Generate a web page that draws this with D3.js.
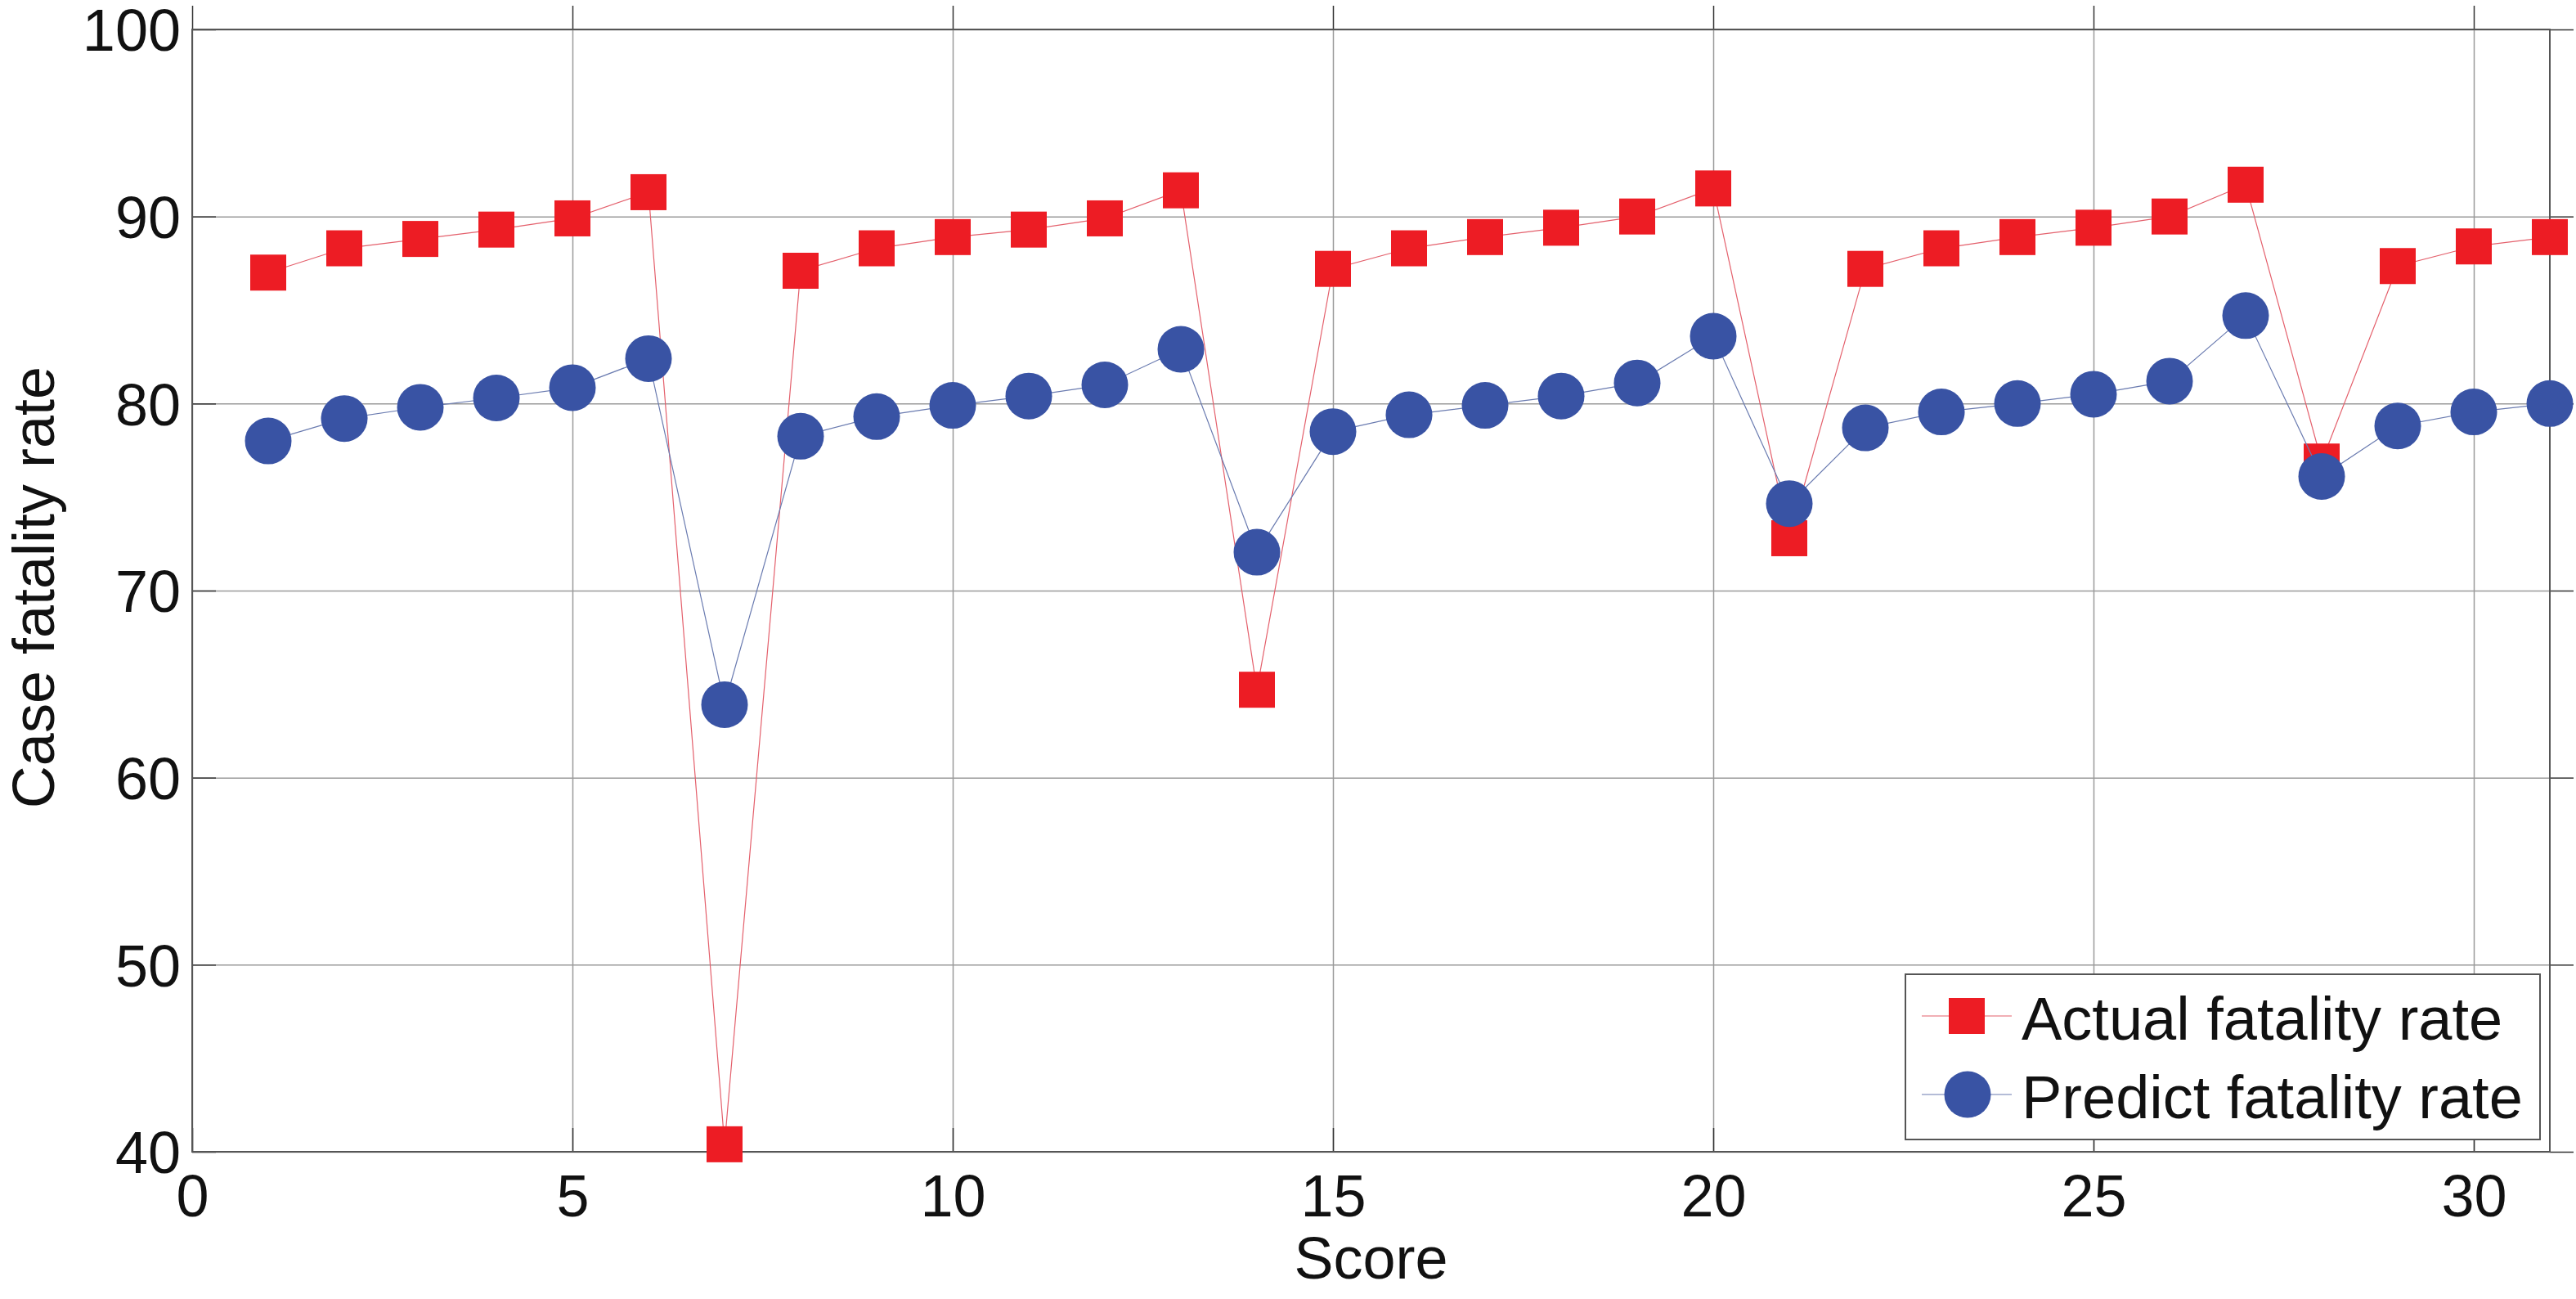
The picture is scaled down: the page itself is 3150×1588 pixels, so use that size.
<!DOCTYPE html>
<html>
<head>
<meta charset="utf-8">
<script src="https://cdn.jsdelivr.net/npm/d3@7"></script>
<style>
body { margin: 0; background: #fff; }
text { font-family: "Liberation Sans", Arial, sans-serif; fill: #111; }
</style>
</head>
<body>
<div id="chart"></div>
<script>
// data
var scores = d3.range(1, 32);
var actualRate = [87.0, 88.3, 88.8, 89.3, 89.9, 91.3, 40.4, 87.1, 88.3, 88.9, 89.3, 89.9, 91.4, 64.7, 87.2,
  88.3, 88.9, 89.4, 90.0, 91.5, 72.8, 87.2, 88.3, 88.9, 89.4, 90.0, 91.7, 76.9, 87.35, 88.4, 88.9];
var predictRate = [78.0, 79.2, 79.8, 80.3, 80.85, 82.4, 63.9, 78.25, 79.3, 79.9, 80.4, 81.0, 82.9, 72.05, 78.5,
  79.4, 79.9, 80.4, 81.1, 83.6, 74.65, 78.7, 79.55, 80.0, 80.5, 81.2, 84.7, 76.1, 78.8, 79.55, 80.0];
var xTicks = [0, 5, 10, 15, 20, 25, 30];
var yTicks = [40, 50, 60, 70, 80, 90, 100];
var seriesNames = ['Actual fatality rate', 'Predict fatality rate'];

var svgWidth = 3150,
  svgHeight = 1588;

var margin = { t: 36, r: 32, b: 180, l: 235 };
var width = svgWidth - margin.l - margin.r,
  height = svgHeight - margin.t - margin.b;

var svg = d3.select('#chart')
  .append('svg')
  .attr('width', svgWidth)
  .attr('height', svgHeight);

var chart = svg.append('g')
  .attr('transform', `translate(${margin.l},${margin.t})`);

var xScale = d3.scaleLinear().domain([0, 31]).range([0, width]);
var yScale = d3.scaleLinear().domain([40, 100]).range([height, 0]);

// grid
chart.append('g')
  .call(d3.axisBottom(xScale).tickValues(xTicks).tickSize(height).tickFormat(''))
  .call(g => g.select('.domain').remove())
  .selectAll('line').attr('stroke', '#9a9a9a').attr('stroke-width', 1.5);

chart.append('g')
  .call(d3.axisLeft(yScale).tickValues(yTicks).tickSize(-width).tickFormat(''))
  .call(g => g.select('.domain').remove())
  .selectAll('line').attr('stroke', '#9a9a9a').attr('stroke-width', 1.5);

// inward ticks on all four sides
var tl = 29;
[[d3.axisBottom, height, -tl], [d3.axisTop, 0, tl]].forEach(a => {
  chart.append('g').attr('transform', `translate(0,${a[1]})`)
    .call(a[0](xScale).tickValues(xTicks).tickSize(a[2]).tickFormat(''))
    .call(g => g.select('.domain').remove())
    .selectAll('line').attr('stroke', '#333').attr('stroke-width', 1.5);
});
[[d3.axisLeft, 0, -tl], [d3.axisRight, width, tl]].forEach(a => {
  chart.append('g').attr('transform', `translate(${a[1]},0)`)
    .call(a[0](yScale).tickValues(yTicks).tickSize(a[2]).tickFormat(''))
    .call(g => g.select('.domain').remove())
    .selectAll('line').attr('stroke', '#333').attr('stroke-width', 1.5);
});

// tick labels
var xAxis = chart.append('g')
  .attr('transform', `translate(0,${height})`)
  .call(d3.axisBottom(xScale).tickValues(xTicks).tickSize(0).tickPadding(0));
xAxis.select('.domain').remove();
xAxis.selectAll('text')
  .attr('y', 79).attr('dy', null)
  .style('font-size', '72px').style('font-family', '"Liberation Sans", Arial, sans-serif').attr('fill', '#111');

var yAxis = chart.append('g')
  .call(d3.axisLeft(yScale).tickValues(yTicks).tickSize(0).tickPadding(14));
yAxis.select('.domain').remove();
yAxis.selectAll('text')
  .attr('dy', '0.36em')
  .style('font-size', '72px').style('font-family', '"Liberation Sans", Arial, sans-serif').attr('fill', '#111');

// box
chart.append('rect')
  .attr('width', width).attr('height', height)
  .attr('fill', 'none').attr('stroke', '#555').attr('stroke-width', 2);

// series
var rateLine = d3.line().x((d, i) => xScale(scores[i])).y(d => yScale(d));

chart.append('path')
  .datum(actualRate)
  .attr('d', rateLine)
  .attr('fill', 'none').attr('stroke', '#e4606c').attr('stroke-width', 1.2);

var sq = 44;
chart.selectAll('.actual')
  .data(actualRate)
  .enter()
  .append('rect')
  .attr('class', 'actual')
  .attr('x', (d, i) => xScale(scores[i]) - sq / 2)
  .attr('y', d => yScale(d) - sq / 2)
  .attr('width', sq).attr('height', sq)
  .attr('fill', '#ed1c24');

chart.append('path')
  .datum(predictRate)
  .attr('d', rateLine)
  .attr('fill', 'none').attr('stroke', '#6a7bb0').attr('stroke-width', 1.2);

chart.selectAll('.predict')
  .data(predictRate)
  .enter()
  .append('circle')
  .attr('class', 'predict')
  .attr('cx', (d, i) => xScale(scores[i]))
  .attr('cy', d => yScale(d))
  .attr('r', 28.5)
  .attr('fill', '#3953a4');

// axis titles
svg.append('text')
  .attr('x', margin.l + width / 2).attr('y', 1563)
  .attr('text-anchor', 'middle')
  .style('font-size', '72px')
  .text('Score');

svg.append('text')
  .attr('transform', `translate(66,${margin.t + height / 2 - 4})rotate(-90)`)
  .attr('text-anchor', 'middle')
  .style('font-size', '72px')
  .text('Case fatality rate');

// legend
var legend = svg.append('g');
legend.append('rect')
  .attr('x', 2330).attr('y', 1191).attr('width', 776).attr('height', 202)
  .attr('fill', '#fff').attr('stroke', '#555').attr('stroke-width', 2);

var rows = [1242, 1338];
legend.selectAll('.lline')
  .data(seriesNames)
  .enter()
  .append('line')
  .attr('x1', 2350).attr('x2', 2460)
  .attr('y1', (d, i) => rows[i]).attr('y2', (d, i) => rows[i])
  .attr('stroke', (d, i) => i ? '#6a7bb0' : '#e4606c').attr('stroke-width', 1.2);

legend.append('rect')
  .attr('x', 2405 - sq / 2).attr('y', rows[0] - sq / 2)
  .attr('width', sq).attr('height', sq).attr('fill', '#ed1c24');
legend.append('circle')
  .attr('cx', 2406).attr('cy', rows[1]).attr('r', 28.5).attr('fill', '#3953a4');

legend.selectAll('.ltext')
  .data(seriesNames)
  .enter()
  .append('text')
  .attr('x', 2472)
  .attr('y', (d, i) => rows[i] + 29)
  .style('font-size', '74px')
  .text(d => d);
</script>
</body>
</html>
